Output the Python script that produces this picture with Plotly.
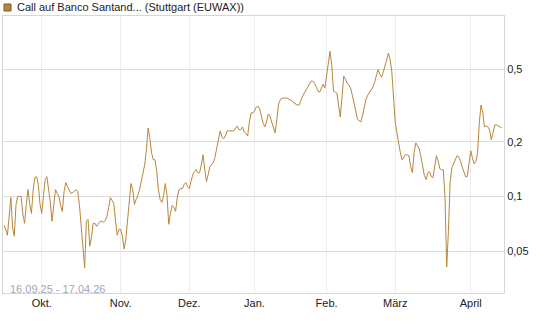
import numpy as np
import pandas as pd
import plotly.graph_objects as go

# trading days (Stuttgart), 16.09.25 - 16.04.26
holidays = ["2025-12-24", "2025-12-25", "2025-12-26", "2025-12-31", "2026-01-01",
            "2026-04-03", "2026-04-06"]
days = pd.bdate_range("2025-09-16", "2026-04-16")
days = days[~days.isin(pd.to_datetime(holidays))]

month_names = {10: "Okt.", 11: "Nov.", 12: "Dez.", 1: "Jan.", 2: "Feb.", 3: "März", 4: "April"}

# price samples, two per trading day (EUR)
prices = [
    0.0694, 0.0660, 0.0612, 0.0797, 0.0987, 0.0676, 0.0604, 0.0904, 0.1000, 0.1000,
    0.1000, 0.0797, 0.0712, 0.0904, 0.1092, 0.0904, 0.0807, 0.1092, 0.1270, 0.1286,
    0.1163, 0.0904, 0.0807, 0.1013, 0.1239, 0.1286, 0.1120, 0.0927, 0.0730, 0.0882,
    0.1092, 0.1039, 0.1000, 0.0893, 0.0828, 0.1065, 0.1193, 0.1134, 0.1092, 0.1039,
    0.1052, 0.1065, 0.1092, 0.1065, 0.0893, 0.0660, 0.0481, 0.0404, 0.0730, 0.0749,
    0.0533, 0.0596, 0.0712, 0.0712, 0.0685, 0.0712, 0.0730, 0.0730, 0.0721, 0.0739,
    0.0777, 0.0871, 0.0987, 0.0951, 0.0916, 0.0730, 0.0612, 0.0660, 0.0660, 0.0604,
    0.0513, 0.0582, 0.0749, 0.0927, 0.1178, 0.1092, 0.0904, 0.0963, 0.1013, 0.1092,
    0.1208, 0.1319, 0.1496, 0.1808, 0.2387, 0.2103, 0.1741, 0.1594, 0.1594, 0.1370,
    0.1092, 0.0963, 0.0927, 0.1013, 0.1178, 0.1013, 0.0703, 0.0807, 0.0893, 0.0871,
    0.0828, 0.0987, 0.1092, 0.1106, 0.1106, 0.1163, 0.1193, 0.1134, 0.1106, 0.1208,
    0.1319, 0.1370, 0.1405, 0.1353, 0.1353, 0.1496, 0.1698, 0.1405, 0.1208, 0.1319,
    0.1459, 0.1496, 0.1535, 0.1655, 0.1878, 0.2130, 0.2298, 0.2130, 0.2077, 0.2157,
    0.2298, 0.2298, 0.2298, 0.2298, 0.2298, 0.2387, 0.2448, 0.2327, 0.2327, 0.2417,
    0.2269, 0.2213, 0.2157, 0.2574, 0.2885, 0.2885, 0.2958, 0.3111, 0.3150, 0.3033,
    0.2742, 0.2542, 0.2417, 0.2574, 0.2848, 0.2777, 0.2574, 0.2387, 0.2241, 0.2640,
    0.3231, 0.3398, 0.3485, 0.3485, 0.3485, 0.3485, 0.3441, 0.3398, 0.3355, 0.3272,
    0.3231, 0.3190, 0.3190, 0.3398, 0.3574, 0.3712, 0.3855, 0.4004, 0.4212, 0.4319,
    0.4319, 0.4212, 0.4004, 0.3807, 0.3759, 0.4004, 0.4159, 0.3954, 0.4543, 0.5420,
    0.6310, 0.5285, 0.3807, 0.3759, 0.3712, 0.3190, 0.2742, 0.3529, 0.4601, 0.4431,
    0.4212, 0.4106, 0.3954, 0.3619, 0.3272, 0.2958, 0.2674, 0.2607, 0.2574, 0.2812,
    0.3111, 0.3441, 0.3619, 0.3759, 0.3904, 0.4004, 0.4265, 0.4659, 0.5000, 0.4718,
    0.4543, 0.4839, 0.5154, 0.5630, 0.6150, 0.5700, 0.4900, 0.3529, 0.2574, 0.2241,
    0.1953, 0.1741, 0.1594, 0.1635, 0.1698, 0.1698, 0.1676, 0.1459, 0.1353, 0.1741,
    0.1975, 0.1902, 0.1831, 0.1655, 0.1459, 0.1302, 0.1239, 0.1353, 0.1370, 0.1286,
    0.1270, 0.1496, 0.1676, 0.1574, 0.1422, 0.1405, 0.1405, 0.1000, 0.0409, 0.0644,
    0.1193, 0.1440, 0.1515, 0.1594, 0.1676, 0.1655, 0.1574, 0.1459, 0.1353, 0.1286,
    0.1286, 0.1535, 0.1785, 0.1635, 0.1515, 0.1554, 0.1741, 0.2542, 0.3190, 0.2921,
    0.2417, 0.2448, 0.2417, 0.2327, 0.2051, 0.2241, 0.2479, 0.2479, 0.2448, 0.2417,
    0.2387,
]

y_ticks = [0.05, 0.1, 0.2, 0.5]
y_labels = ["0,05", "0,1", "0,2", "0,5"]

series_name = "Call auf Banco Santand... (Stuttgart (EUWAX))"
period_text = "16.09.25 - 17.04.26"
line_color = "#b8863b"

x_pos = np.arange(len(prices)) / 2.0

tick_idx, tick_txt = [], []
prev = None
for i, d in enumerate(days):
    if prev is not None and d.month != prev:
        tick_idx.append(i)
        tick_txt.append(month_names[d.month])
    prev = d.month

fig = go.Figure()
fig.add_trace(go.Scatter(x=x_pos, y=prices, mode="lines",
                         line=dict(color=line_color, width=1),
                         showlegend=False, hoverinfo="skip"))

font = "Liberation Sans, Arial, sans-serif"
fig.update_layout(
    width=545, height=327,
    margin=dict(l=3, r=41, t=16, b=34),
    paper_bgcolor="white", plot_bgcolor="white",
    separators=",.",
    font=dict(family=font, size=11, color="#222222"),
    xaxis=dict(range=[-0.29, 145.7], tickvals=tick_idx, ticktext=tick_txt,
               showgrid=True, gridcolor="#ededed", gridwidth=1,
               showline=True, linecolor="#d6d6d6", linewidth=1, mirror=True,
               ticks="", zeroline=False, tickfont=dict(size=11, color="#222222")),
    yaxis=dict(type="log", range=[np.log10(0.0294), np.log10(0.987)], side="right",
               tickvals=y_ticks, ticktext=y_labels,
               showgrid=True, gridcolor="#dcdcdc", gridwidth=1,
               showline=True, linecolor="#d6d6d6", linewidth=1, mirror=True,
               ticks="", zeroline=False, tickfont=dict(size=11, color="#222222")),
    shapes=[
        dict(type="rect", xref="paper", yref="paper", xsizemode="pixel", ysizemode="pixel",
             xanchor=0, yanchor=1, x0=1, x1=8, y0=5, y1=12,
             fillcolor=line_color, line=dict(color="#7d5a26", width=1)),
    ],
    annotations=[
        dict(xref="paper", yref="paper", x=0.01, y=0.0155, xanchor="left", yanchor="middle",
             text=period_text, showarrow=False,
             font=dict(family=font, size=11, color="#9ea8ba")),
        dict(xref="paper", yref="paper", x=0.024, y=1.0, yshift=9, xanchor="left",
             yanchor="middle", text=series_name,
             showarrow=False, font=dict(family=font, size=11, color="#222222")),
    ],
)

fig.write_html("out.html")
